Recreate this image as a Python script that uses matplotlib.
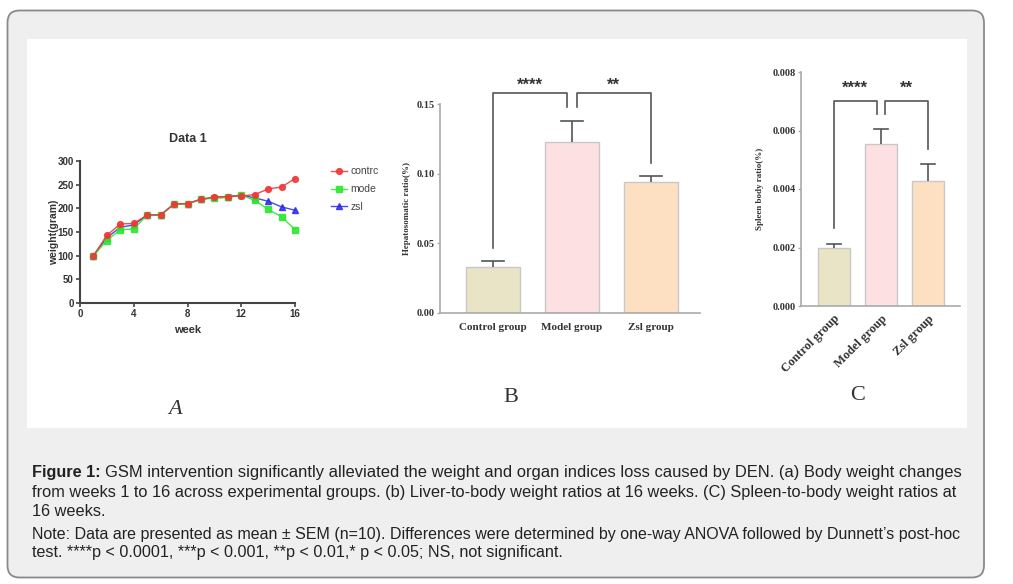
import matplotlib
matplotlib.use('Agg')
import matplotlib.pyplot as plt
from matplotlib.patches import FancyBboxPatch, Rectangle
import numpy as np

# Panel A: body weight (gram) by week
weeks = list(range(1, 17))
control_w = [100, 143, 167, 168, 186, 186, 209, 210, 219, 224, 225, 226, 229, 241, 245, 263]
model_w = [100, 132, 155, 156, 186, 186, 209, 209, 220, 221, 223, 228, 217, 198, 182, 155]
zsl_w = [100, 138, 160, 165, 186, 186, 209, 210, 219, 223, 225, 228, 222, 215, 203, 196]
legend_names = ['contrc', 'mode', 'zsl']

# Panels B and C
groups = ['Control group', 'Model group', 'Zsl group']
bar_colors = ['#e9e4c6', '#fde0e1', '#fde0c2']
hep_mean = [0.033, 0.123, 0.094]
hep_sem = [0.004, 0.015, 0.004]
spl_mean = [0.00200, 0.00553, 0.00426]
spl_sem = [0.00012, 0.00052, 0.00059]
stars = ['****', '**']

caption1 = ('GSM intervention significantly alleviated the weight and organ indices loss caused by DEN. '
            '(a) Body weight changes')
caption2 = ('from weeks 1 to 16 across experimental groups. (b) Liver-to-body weight ratios at 16 weeks. '
            '(C) Spleen-to-body weight ratios at')
caption3 = '16 weeks.'
note1 = ('Note: Data are presented as mean \u00b1 SEM (n=10). Differences were determined by one-way ANOVA '
         'followed by Dunnett\u2019s post-hoc')
note2 = 'test. ****p < 0.0001, ***p < 0.001, **p < 0.01,* p < 0.05; NS, not significant.'

W, H = 1013, 584
fig = plt.figure(figsize=(W / 100, H / 100), dpi=100)
fig.patch.set_facecolor('white')


def box(l, t, r, b):
    return [l / W, 1 - b / H, (r - l) / W, (b - t) / H]


# outer rounded frame and white picture area (in inches)
frame = FancyBboxPatch((0.075, 0.065), 9.765, 5.67, boxstyle='round,pad=0,rounding_size=0.12',
                       transform=fig.dpi_scale_trans, facecolor='#efefef', edgecolor='#8a8a8a',
                       lw=1.3, zorder=-10)
fig.patches.append(frame)
fig.patches.append(Rectangle((0.27, 1.56), 9.40, 3.89, transform=fig.dpi_scale_trans,
                             facecolor='white', edgecolor='none', zorder=-9))

sans = 'Liberation Sans'
serif = 'Liberation Serif'

# ---- Panel A ----
axA = fig.add_axes(box(80, 161, 295, 303))
axA.patch.set_alpha(0)
axA.plot(weeks, zsl_w, '-^', color='#2a2ae8', mec='#2a2ae8', ms=3.8, lw=1, alpha=0.85,
         clip_on=False, label=legend_names[2])
axA.plot(weeks, model_w, '-s', color='#2ee82e', mec='#2ee82e', ms=4, lw=1, alpha=0.9,
         clip_on=False, label=legend_names[1])
axA.plot(weeks, control_w, '-o', color='#f03838', mec='#f03838', ms=4.2, lw=1, alpha=0.9,
         clip_on=False, label=legend_names[0])
axA.set_xlim(0, 16)
axA.set_ylim(0, 300)
axA.set_xticks([0, 4, 8, 12, 16])
axA.set_yticks(range(0, 301, 50))
for s in ['top', 'right']:
    axA.spines[s].set_visible(False)
for s in ['left', 'bottom']:
    axA.spines[s].set_color('#444444')
    axA.spines[s].set_linewidth(1.5)
axA.tick_params(colors='#444444', width=1.2, length=3, pad=1.5, labelsize=7)
for t in axA.get_xticklabels() + axA.get_yticklabels():
    t.set_fontfamily(sans)
    t.set_fontweight('bold')
    t.set_color('#333333')
axA.set_xlabel('week', fontfamily=sans, fontweight='bold', fontsize=8, color='#333333', labelpad=4)
axA.set_ylabel('weight(gram)', fontfamily=sans, fontweight='bold', fontsize=7.5, color='#333333', labelpad=-1)
axA.set_title('Data 1', fontfamily=sans, fontweight='bold', fontsize=9, color='#333333', pad=14)
h, l = axA.get_legend_handles_labels()
axA.legend(h[::-1], l[::-1], loc='upper left', bbox_to_anchor=(322 / W, 1 - 157 / H),
           bbox_transform=fig.transFigure, frameon=False, handlelength=1.5, handletextpad=0.3,
           labelspacing=0.75, prop={'family': sans, 'size': 7.5}, labelcolor='#444444')
fig.text(175 / W, 1 - 410 / H, 'A', fontfamily=serif, style='italic', fontsize=16,
         color='#333333', ha='center', va='center')


def bar_panel(ax, means, sems, top, ticks, fmt, ylabel, brackets, star_y, lab_rot):
    x = np.arange(len(groups))
    ax.patch.set_alpha(0)
    ax.bar(x, means, width=0.68, color=bar_colors, edgecolor='#c8c8c8', lw=1.0, zorder=2)
    ax.errorbar(x, means, yerr=[np.zeros(len(sems)), sems], fmt='none', ecolor='#555555',
                elinewidth=1.2, capsize=0, zorder=3)
    for xi, m, s in zip(x, means, sems):
        ax.plot([xi - 0.14, xi + 0.14], [m + s, m + s], color='#555555', lw=1.2, zorder=3)
    ax.set_ylim(0, top)
    ax.set_yticks(ticks)
    ax.set_yticklabels([fmt.format(v) for v in ticks])
    ax.set_xticks(x)
    if lab_rot:
        ax.set_xticklabels(groups, rotation=45, ha='right', rotation_mode='anchor')
    else:
        ax.set_xticklabels(groups)
    for s in ['top', 'right']:
        ax.spines[s].set_visible(False)
    for s in ['left', 'bottom']:
        ax.spines[s].set_color('#aaaaaa')
        ax.spines[s].set_linewidth(1.2)
    ax.tick_params(axis='x', length=0, pad=7)
    ax.tick_params(axis='y', colors='#aaaaaa', length=2, width=1, pad=2)
    for t in ax.get_yticklabels():
        t.set_fontfamily(serif)
        t.set_fontweight('bold')
        t.set_fontsize(7.5)
        t.set_color('#333333')
    for t in ax.get_xticklabels():
        t.set_fontfamily(serif)
        t.set_fontweight('bold')
        t.set_fontsize(9 if lab_rot else 8)
        t.set_color('#333333')
    ax.set_ylabel(ylabel, fontfamily=serif, fontweight='bold', fontsize=6.5, color='#333333', labelpad=4)
    # significance brackets
    for (x0, x1, y0, y1, yh), st in zip(brackets, stars):
        ax.plot([x0, x0, x1, x1], [y0, yh, yh, y1], color='#555555', lw=1.2, clip_on=False, zorder=4)
        ax.text((x0 + x1) / 2, star_y, st, ha='center', va='center', fontsize=12, fontweight='bold',
                color='#333333', fontfamily=sans)


# ---- Panel B ----
axB = fig.add_axes(box(440, 104, 700, 313))
bar_panel(axB, hep_mean, hep_sem, 0.15, [0.00, 0.05, 0.10, 0.15], '{:.2f}',
          'Hepatosomatic ratio(%)',
          [(0, 0.94, 0.0467, 0.148, 0.158), (1.06, 2, 0.148, 0.1077, 0.158)], 0.1635, False)
axB.set_xlim(-0.67, 2.62)
fig.text(511 / W, 1 - 397 / H, 'B', fontfamily=serif, fontsize=16, color='#333333',
         ha='center', va='center')

# ---- Panel C ----
axC = fig.add_axes(box(801, 72, 960, 306))
bar_panel(axC, spl_mean, spl_sem, 0.008, [0.000, 0.002, 0.004, 0.006, 0.008], '{:.3f}',
          'Spleen body ratio(%)',
          [(0, 0.91, 0.00267, 0.00656, 0.00701), (1.09, 2, 0.00656, 0.00537, 0.00701)], 0.00745, True)
axC.set_xlim(-0.70, 2.68)
axC.tick_params(axis='x', pad=5)
axC.yaxis.labelpad = 6
fig.text(858 / W, 1 - 395 / H, 'C', fontfamily=serif, fontsize=16, color='#333333',
         ha='center', va='center')

# ---- caption: each full line fitted to the reference right edge ----
cap_kw = dict(fontfamily=sans, color='#222222', va='center', ha='left')
fig.canvas.draw()
r = fig.canvas.get_renderer()
base = 11.9


def fitted(x0, y, s, right, **kw):
    t = fig.text(x0 / W, 1 - y / H, s, fontsize=base, **cap_kw, **kw)
    if right is not None:
        w = t.get_window_extent(r).width
        t.set_fontsize(base * (right - x0) / w)
    return t


lab = fig.text(32 / W, 1 - 473 / H, 'Figure 1:', fontweight='bold', fontsize=11.7, **cap_kw)
wpx = lab.get_window_extent(r).width
fitted(32 + wpx + 4, 473, caption1, 960)
fitted(32, 492, caption2, 957)
t3 = fig.text(32 / W, 1 - 511 / H, caption3, fontsize=11.7, **cap_kw)
fitted(32, 534, note1, 961)
fitted(32, 553, note2, 564)

fig.savefig('out.png', dpi=100)
